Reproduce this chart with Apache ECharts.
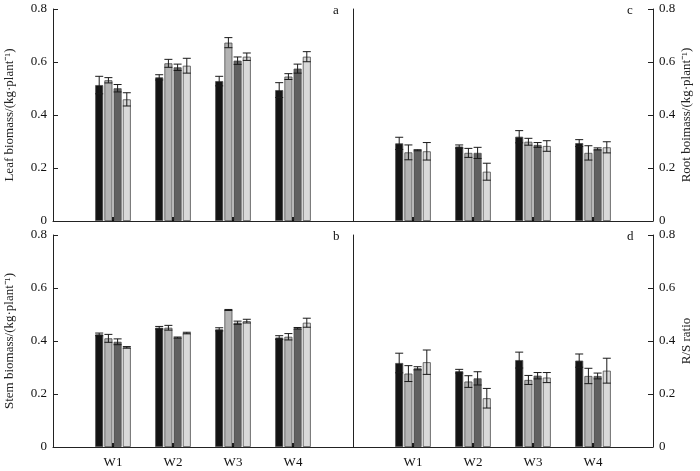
<!DOCTYPE html>
<html>
<head>
<meta charset="utf-8">
<script src="https://cdn.jsdelivr.net/npm/echarts@6/dist/echarts.min.js"></script>
<style>html,body{margin:0;padding:0;background:#fff}#c{width:700px;height:471px}</style>
</head>
<body>
<div id="c"></div>
<script>
// ---- data ----
const categories = ['W1', 'W2', 'W3', 'W4'];
const yTicks = [0, 0.2, 0.4, 0.6, 0.8];

// each inner array: one treatment (bar colour order: black, light grey, dark grey, pale grey) over W1..W4
const leafMean = [[0.513, 0.542, 0.528, 0.494], [0.531, 0.595, 0.673, 0.545], [0.501, 0.580, 0.605, 0.575], [0.459, 0.586, 0.620, 0.620]];
const leafErr  = [[0.033, 0.010, 0.018, 0.028], [0.010, 0.015, 0.019, 0.011], [0.014, 0.012, 0.014, 0.017], [0.025, 0.028, 0.014, 0.019]];

const stemMean = [[0.425, 0.450, 0.444, 0.413], [0.410, 0.450, 0.517, 0.416], [0.397, 0.413, 0.469, 0.448], [0.376, 0.430, 0.475, 0.469]];
const stemErr  = [[0.005, 0.005, 0.006, 0.007], [0.015, 0.009, 0.002, 0.012], [0.011, 0.002, 0.006, 0.003], [0.003, 0.003, 0.007, 0.017]];

const rootMean = [[0.293, 0.281, 0.318, 0.294], [0.259, 0.257, 0.299, 0.257], [0.267, 0.257, 0.287, 0.272], [0.263, 0.186, 0.283, 0.278]];
const rootErr  = [[0.023, 0.006, 0.023, 0.013], [0.028, 0.017, 0.013, 0.027], [0.002, 0.021, 0.009, 0.004], [0.033, 0.032, 0.020, 0.021]];

const rsMean = [[0.317, 0.286, 0.328, 0.326], [0.277, 0.247, 0.253, 0.268], [0.297, 0.259, 0.269, 0.268], [0.320, 0.184, 0.262, 0.288]];
const rsErr  = [[0.037, 0.007, 0.030, 0.025], [0.030, 0.022, 0.017, 0.029], [0.006, 0.025, 0.012, 0.011], [0.046, 0.037, 0.019, 0.047]];

const panelNames = ['Leaf biomass/(kg·plant⁻¹)', 'Root boimass/(kg·plant⁻¹)', 'Stem biomass/(kg·plant⁻¹)', 'R/S ratio'];
const panelLetters = ['a', 'c', 'b', 'd'];

// ---- styles ----
const FONT = "'Liberation Serif', 'Times New Roman', serif";
const barColors = ['#141414', '#b3b3b3', '#606060', '#d9d9d9'];
const BAR_W = 8, GAP = 0.15, STEP = BAR_W * (1 + GAP);

const panels = [
  {mean: leafMean, err: leafErr, right: false, bottom: false},
  {mean: rootMean, err: rootErr, right: true, bottom: false},
  {mean: stemMean, err: stemErr, right: false, bottom: true},
  {mean: rsMean, err: rsErr, right: true, bottom: true}
];

const grids = [
  {left: 53, top: 9, width: 300, height: 212},
  {left: 353, top: 9, width: 300, height: 212},
  {left: 53, top: 235, width: 300, height: 212},
  {left: 353, top: 235, width: 300, height: 212}
];

const xData = [''].concat(categories, ['']);
const xAxis = [], yAxis = [], series = [], graphic = [];

panels.forEach((p, pi) => {
  xAxis.push({
    type: 'category', gridIndex: pi, data: xData, boundaryGap: false,
    axisLine: {lineStyle: {color: '#222', width: 1}},
    axisTick: {show: true, inside: true, length: 4, interval: (i) => i >= 1 && i <= categories.length,
               lineStyle: {color: '#000', width: 2}},
    axisLabel: {show: p.bottom, interval: 0, margin: 9, fontFamily: FONT, fontSize: 13, color: '#111'},
    splitLine: {show: false}
  });
  const yi = yAxis.length;
  yAxis.push({
    type: 'value', gridIndex: pi, min: yTicks[0], max: yTicks[yTicks.length - 1], interval: 0.2,
    position: p.right ? 'right' : 'left',
    name: panelNames[pi], nameLocation: 'middle', nameRotate: 90, nameGap: p.right ? 27 : 37,
    nameTextStyle: {fontFamily: FONT, fontSize: 13, color: '#222'},
    axisLine: {show: true, lineStyle: {color: '#222', width: 1}},
    axisTick: {show: true, inside: true, length: 5, lineStyle: {color: '#222'}},
    axisLabel: {fontFamily: FONT, fontSize: 13, color: '#111', margin: 6,
                formatter: v => v === 0 ? '0' : v.toFixed(1)},
    splitLine: {show: false}
  });
  if (p.right) {
    yAxis.push({
      type: 'value', gridIndex: pi, min: 0, max: 0.8, position: 'left',
      axisLine: {show: true, lineStyle: {color: '#222', width: 1}},
      axisTick: {show: false}, axisLabel: {show: false}, splitLine: {show: false}
    });
  }
  p.mean.forEach((vals, ti) => {
    series.push({
      type: 'bar', xAxisIndex: pi, yAxisIndex: yi, name: 'T' + (ti + 1),
      barWidth: BAR_W, barGap: (GAP * 100) + '%',
      itemStyle: {color: barColors[ti], borderColor: '#4d4d4d', borderWidth: 0.8},
      data: vals.map((v, ci) => [ci + 1, v]),
      z: 2
    });
  });
  const errData = [];
  p.mean.forEach((vals, ti) => vals.forEach((v, ci) => errData.push([ci + 1, ti, v, p.err[ti][ci]])));
  series.push({
    type: 'custom', xAxisIndex: pi, yAxisIndex: yi, z: 5,
    encode: {x: 0, y: 2},
    data: errData,
    renderItem: (params, api) => {
      const c = api.value(0), t = api.value(1), m = api.value(2), e = api.value(3);
      const hi = api.coord([c, m + e]), lo = api.coord([c, m - e]);
      const x = hi[0] + (t - 1.5) * STEP;
      const hw = BAR_W / 2;
      const st = {stroke: '#1a1a1a', lineWidth: 1};
      return {type: 'group', children: [
        {type: 'line', shape: {x1: x, y1: hi[1], x2: x, y2: lo[1]}, style: st},
        {type: 'line', shape: {x1: x - hw, y1: hi[1], x2: x + hw, y2: hi[1]}, style: st},
        {type: 'line', shape: {x1: x - hw, y1: lo[1], x2: x + hw, y2: lo[1]}, style: st}
      ]};
    }
  });
  const g = grids[pi];
  graphic.push({
    type: 'text', left: g.left + g.width - (p.right ? 26 : 20), top: g.top - 5,
    style: {text: panelLetters[pi], font: '13px ' + FONT, fill: '#111'}
  });
});

const chart = echarts.init(document.getElementById('c'));
chart.setOption({
  animation: false,
  backgroundColor: '#fff',
  grid: grids,
  xAxis: xAxis,
  yAxis: yAxis,
  series: series,
  graphic: graphic
});
</script>
</body>
</html>
